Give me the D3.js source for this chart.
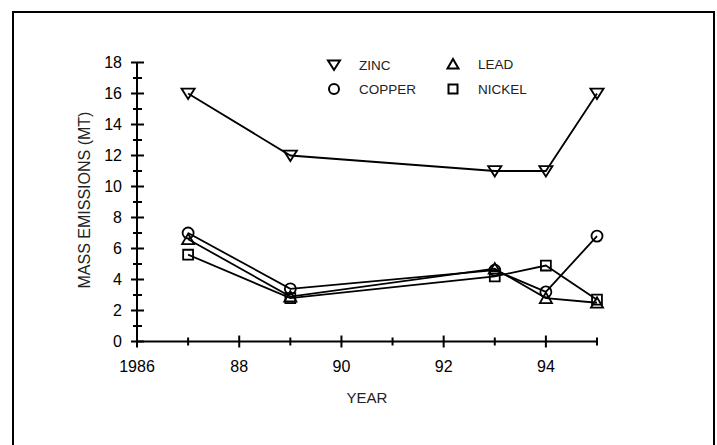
<!DOCTYPE html>
<html>
<head>
<meta charset="utf-8">
<script src="https://cdn.jsdelivr.net/npm/d3@7"></script>
<style>
  body { margin: 0; background: #fff; }
  svg { display: block; font-family: Arial, 'Liberation Sans', sans-serif; }
</style>
</head>
<body>
<div id="chart"></div>
<script>
const width = 717
const height = 445

// data
const years = [1987, 1989, 1993, 1994, 1995]
const zinc = [16, 12, 11, 11, 16]
const copper = [7.0, 3.4, 4.6, 3.2, 6.8]
const lead = [6.6, 2.9, 4.7, 2.8, 2.5]
const nickel = [5.6, 2.8, 4.2, 4.9, 2.7]

const xTicks = [1986, 1988, 1990, 1992, 1994]
const xTickLabels = ['1986', '88', '90', '92', '94']
const yTicks = [0, 2, 4, 6, 8, 10, 12, 14, 16, 18]

const series = [
  { name: 'ZINC', values: zinc, marker: 'tridown' },
  { name: 'COPPER', values: copper, marker: 'circle' },
  { name: 'LEAD', values: lead, marker: 'triup' },
  { name: 'NICKEL', values: nickel, marker: 'square' }
]

const svg = d3.select('#chart')
  .append('svg')
  .attr('width', width)
  .attr('height', height)

// frame
svg.append('rect')
  .attr('x', 13)
  .attr('y', 12)
  .attr('width', 701)
  .attr('height', 450)
  .attr('fill', 'none')
  .attr('stroke', '#000')
  .attr('stroke-width', 2)

const xScale = d3.scaleLinear().domain([1986, 1995]).range([137, 597])
const yScale = d3.scaleLinear().domain([0, 18]).range([341.5, 62.5])

function markerPath(type, cx, cy, s) {
  const p = d3.path()
  if (type === 'circle') {
    p.moveTo(cx + s * 0.5, cy)
    p.arc(cx, cy, s * 0.5, 0, Math.PI * 2)
  } else if (type === 'square') {
    const h = s * 0.45
    p.rect(cx - h, cy - h, h * 2, h * 2)
  } else if (type === 'tridown') {
    const w = s * 0.6
    p.moveTo(cx - w, cy - s * 0.45)
    p.lineTo(cx + w, cy - s * 0.45)
    p.lineTo(cx, cy + s * 0.5)
    p.closePath()
  } else {
    const w = s * 0.55
    p.moveTo(cx - w, cy + s * 0.45)
    p.lineTo(cx + w, cy + s * 0.45)
    p.lineTo(cx, cy - s * 0.5)
    p.closePath()
  }
  return p.toString()
}

// y axis with crossing ticks
const yAxisG = svg.append('g').attr('class', 'y-axis')
yAxisG.append('line')
  .attr('x1', xScale(1986)).attr('x2', xScale(1986))
  .attr('y1', yScale(18)).attr('y2', yScale(0))
  .attr('stroke', '#000').attr('stroke-width', 2)

d3.range(0, 19).forEach(v => {
  const major = v % 2 === 0
  yAxisG.append('line')
    .attr('x1', xScale(1986) - (major ? 6 : 4))
    .attr('x2', xScale(1986) + (major ? 7 : 5))
    .attr('y1', yScale(v)).attr('y2', yScale(v))
    .attr('stroke', '#000').attr('stroke-width', 2)
})

yAxisG.selectAll('text')
  .data(yTicks)
  .enter()
  .append('text')
  .attr('x', xScale(1986) - 15)
  .attr('y', d => yScale(d))
  .attr('dy', '0.36em')
  .attr('text-anchor', 'end')
  .attr('font-size', 16)
  .text(d => d)

// x axis
const xAxisG = svg.append('g').attr('class', 'x-axis')
xAxisG.append('line')
  .attr('x1', xScale(1986)).attr('x2', xScale(1995))
  .attr('y1', yScale(0)).attr('y2', yScale(0))
  .attr('stroke', '#000').attr('stroke-width', 2)

d3.range(1986, 1996).forEach(v => {
  const major = v % 2 === 0
  xAxisG.append('line')
    .attr('x1', xScale(v)).attr('x2', xScale(v))
    .attr('y1', yScale(0) - (major ? 6 : 4))
    .attr('y2', yScale(0) + (major ? 6 : 4))
    .attr('stroke', '#000').attr('stroke-width', 2)
})

xAxisG.selectAll('text')
  .data(xTicks)
  .enter()
  .append('text')
  .attr('x', d => xScale(d))
  .attr('y', 372)
  .attr('text-anchor', 'middle')
  .attr('font-size', 16)
  .text((d, i) => xTickLabels[i])

// axis titles
svg.append('text')
  .attr('x', 367)
  .attr('y', 403)
  .attr('text-anchor', 'middle')
  .attr('font-size', 15)
  .attr('fill', '#222')
  .text('YEAR')

svg.append('text')
  .attr('transform', 'translate(90,200) rotate(-90)')
  .attr('text-anchor', 'middle')
  .attr('font-size', 16)
  .attr('fill', '#222')
  .text('MASS EMISSIONS (MT)')

// lines + markers
const line = d3.line()
  .x((d, i) => xScale(years[i]))
  .y(d => yScale(d))

series.forEach(s => {
  svg.append('path')
    .attr('d', line(s.values))
    .attr('fill', 'none')
    .attr('stroke', '#000')
    .attr('stroke-width', 1.8)

  svg.selectAll(null)
    .data(s.values)
    .enter()
    .append('path')
    .attr('d', (d, i) => markerPath(s.marker, xScale(years[i]), yScale(d), 11))
    .attr('fill', 'none')
    .attr('stroke', '#000')
    .attr('stroke-width', 1.8)
})

// legend
const legendPos = [
  { x: 334, y: 65 },
  { x: 334, y: 89 },
  { x: 453, y: 64 },
  { x: 453, y: 89 }
]

series.forEach((s, i) => {
  const pos = legendPos[i]
  svg.append('path')
    .attr('d', markerPath(s.marker, pos.x, pos.y, 10))
    .attr('fill', 'none')
    .attr('stroke', '#000')
    .attr('stroke-width', 2)
  svg.append('text')
    .attr('x', pos.x + 25)
    .attr('y', pos.y + 5)
    .attr('font-size', 13.5)
    .attr('fill', '#222')
    .text(s.name)
})
</script>
</body>
</html>
